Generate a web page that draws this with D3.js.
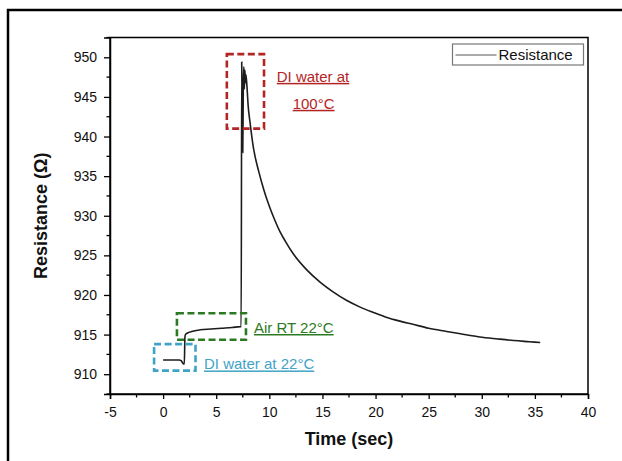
<!DOCTYPE html>
<html>
<head>
<meta charset="utf-8">
<script src="https://cdn.jsdelivr.net/npm/d3@7"></script>
<style>
  body { margin: 0; background: #fff; }
  .chart text { font-family: "Liberation Sans", Arial, sans-serif; }
  .axis path, .axis line { stroke: #000; }
  .tickLabel { font-size: 14px; fill: #111; }
  .axisText { font-size: 18px; font-weight: bold; fill: #111; }
  .note { font-size: 15px; text-decoration: underline; }
</style>
</head>
<body>
<div class="chart"></div>
<script>
// Resistance vs time: DI water at 22C, air at RT, then DI water at 100C

// time (sec)
var timeSec = [0, 0.5, 1.0, 1.5, 1.7, 1.8, 1.9, 2.0, 2.05, 2.1, 2.3, 2.7, 3.5, 4.5, 5.5, 6.5, 7.3, 7.35,
    7.4, 7.45, 7.5, 7.55, 7.6, 7.65, 7.7, 7.75, 7.8, 7.9, 8.0, 8.2, 8.5, 9.0, 9.5, 10.0, 10.5, 11.0, 11.5,
    12.3, 13.5, 14.8, 16.0, 17.3, 18.5, 19.8, 21.0, 22.3, 23.5, 25.0, 26.7, 28.0, 29.8, 31.5, 33.0, 34.5, 35.5];

// resistance (ohm) for each time
var resistanceOhm = [911.8, 911.8, 911.8, 911.8, 911.7, 911.5, 911.3, 911.3, 914.6, 915.0, 915.2, 915.4, 915.6, 915.7, 915.8, 915.9, 916.0, 916.0,
    949.4, 941.0, 938.0, 946.5, 948.8, 946.0, 948.4, 946.8, 947.8, 946.2, 944.0, 941.6, 938.6, 935.6, 933.2, 931.2, 929.5, 928.0, 926.8,
    925.1, 923.2, 921.6, 920.4, 919.3, 918.5, 917.8, 917.2, 916.7, 916.3, 915.8, 915.4, 915.1, 914.7, 914.45, 914.25, 914.1, 914.0];

var xTicks = [-5, 0, 5, 10, 15, 20, 25, 30, 35, 40];
var yTicks = [910, 915, 920, 925, 930, 935, 940, 945, 950];
var xMinor = [-2.5, 2.5, 7.5, 12.5, 17.5, 22.5, 27.5, 32.5, 37.5];
var yMinor = [907.5, 912.5, 917.5, 922.5, 927.5, 932.5, 937.5, 942.5, 947.5, 952.5];

// dashed boxes: [t0, t1, R top, R bottom]
var noteBoxes = [[6.0, 9.5, 950.4, 941.0], [1.3, 7.8, 917.7, 914.35], [-0.85, 3.05, 913.8, 910.45]];
var noteColors = ["#b32424", "#2b7a22", "#3fa3c6"];
var noteTexts = [["DI water at", "100°C"], ["Air RT 22°C"], ["DI water at 22°C"]];
// anchor of each label [t, R]
var noteAnchors = [[[10.7, 946.9], [12.2, 943.5]], [[8.55, 915.2]], [[3.85, 910.6]]];

var svgWidth = 622;
var svgHeight = 461;
var margin = { top: 37.5, right: 34, bottom: 67, left: 110 };
var width = svgWidth - margin.left - margin.right;
var height = svgHeight - margin.top - margin.bottom;

var root = d3.select(".chart")
    .append("svg")
    .attr("width", svgWidth)
    .attr("height", svgHeight);

// outer frame (left and top)
root.append("path")
    .attr("d", "M8,461 L8,10 L622,10")
    .attr("fill", "none")
    .attr("stroke", "#000")
    .attr("stroke-width", 2.5);

var chart = root.append("g")
    .attr("transform", "translate(" + margin.left + "," + margin.top + ")");

var xScale = d3.scaleLinear().domain([-5, 40]).range([0, width]);
var yScale = d3.scaleLinear().domain([907.5, 952.5]).range([height, 0]);

// plot frame
chart.append("rect")
    .attr("width", width)
    .attr("height", height)
    .attr("fill", "none")
    .attr("stroke", "#000")
    .attr("stroke-width", 1.5);

// axes
var bottomAxis = d3.axisBottom(xScale).tickValues(xTicks).tickSize(5).tickPadding(8)
    .tickFormat(function(d) { return String(d); });
var leftAxis = d3.axisLeft(yScale).tickValues(yTicks).tickSize(6).tickPadding(7)
    .tickFormat(function(d) { return String(d); });

var gx = chart.append("g")
    .attr("class", "axis")
    .attr("transform", "translate(0," + height + ")")
    .call(bottomAxis);
var gy = chart.append("g")
    .attr("class", "axis")
    .call(leftAxis);

[gx, gy].forEach(function(g) {
    g.select(".domain").attr("stroke-width", 1.5);
    g.selectAll(".tick line").attr("stroke-width", 1.3);
    g.selectAll(".tick text").attr("class", "tickLabel").attr("font-size", null).attr("font-family", null);
});

// minor ticks
gx.selectAll(".minor").data(xMinor).enter().append("line")
    .attr("x1", function(d) { return xScale(d); })
    .attr("x2", function(d) { return xScale(d); })
    .attr("y1", 0).attr("y2", 3.5)
    .attr("stroke", "#000").attr("stroke-width", 1.3);
gy.selectAll(".minor").data(yMinor).enter().append("line")
    .attr("y1", function(d) { return yScale(d); })
    .attr("y2", function(d) { return yScale(d); })
    .attr("x1", 0).attr("x2", -3.5)
    .attr("stroke", "#000").attr("stroke-width", 1.3);

// the trace
var points = timeSec.map(function(t, i) { return [t, resistanceOhm[i]]; });
var line = d3.line()
    .x(function(d) { return xScale(d[0]); })
    .y(function(d) { return yScale(d[1]); })
    .curve(d3.curveMonotoneX);

chart.append("path")
    .datum(points)
    .attr("fill", "none")
    .attr("stroke", "#1c1c1c")
    .attr("stroke-width", 1.6)
    .attr("d", line);

// dashed annotation boxes
chart.selectAll(".noteBox")
    .data(noteBoxes)
    .enter().append("rect")
        .attr("x", function(d) { return xScale(d[0]); })
        .attr("y", function(d) { return yScale(d[2]); })
        .attr("width", function(d) { return xScale(d[1]) - xScale(d[0]); })
        .attr("height", function(d) { return yScale(d[3]) - yScale(d[2]); })
        .attr("fill", "none")
        .attr("stroke", function(d, i) { return noteColors[i]; })
        .attr("stroke-width", 2.6)
        .attr("stroke-dasharray", "7,3.5");

noteTexts.forEach(function(lines, i) {
    lines.forEach(function(txt, j) {
        chart.append("text")
            .attr("class", "note")
            .attr("x", xScale(noteAnchors[i][j][0]))
            .attr("y", yScale(noteAnchors[i][j][1]))
            .attr("fill", noteColors[i])
            .text(txt);
    });
});

// legend
var legend = chart.append("g")
    .attr("transform", "translate(" + (width - 135.5) + ",6.5)");
legend.append("rect")
    .attr("width", 131)
    .attr("height", 21)
    .attr("fill", "#fff")
    .attr("stroke", "#777")
    .attr("stroke-width", 1.2);
legend.append("line")
    .attr("x1", 3).attr("x2", 44)
    .attr("y1", 11).attr("y2", 11)
    .attr("stroke", "#555")
    .attr("stroke-width", 1);
legend.append("text")
    .attr("x", 46)
    .attr("y", 16)
    .attr("font-size", "15px")
    .attr("fill", "#111")
    .text("Resistance");

// axis titles
chart.append("text")
    .attr("transform", "rotate(-90)")
    .attr("x", 0 - (yScale(930)))
    .attr("y", 46.5 - margin.left)
    .attr("text-anchor", "middle")
    .attr("class", "axisText")
    .text("Resistance (Ω)");

chart.append("text")
    .attr("transform", "translate(" + (349 - margin.left) + "," + (444.5 - margin.top) + ")")
    .attr("text-anchor", "middle")
    .attr("class", "axisText")
    .text("Time (sec)");
</script>
</body>
</html>
